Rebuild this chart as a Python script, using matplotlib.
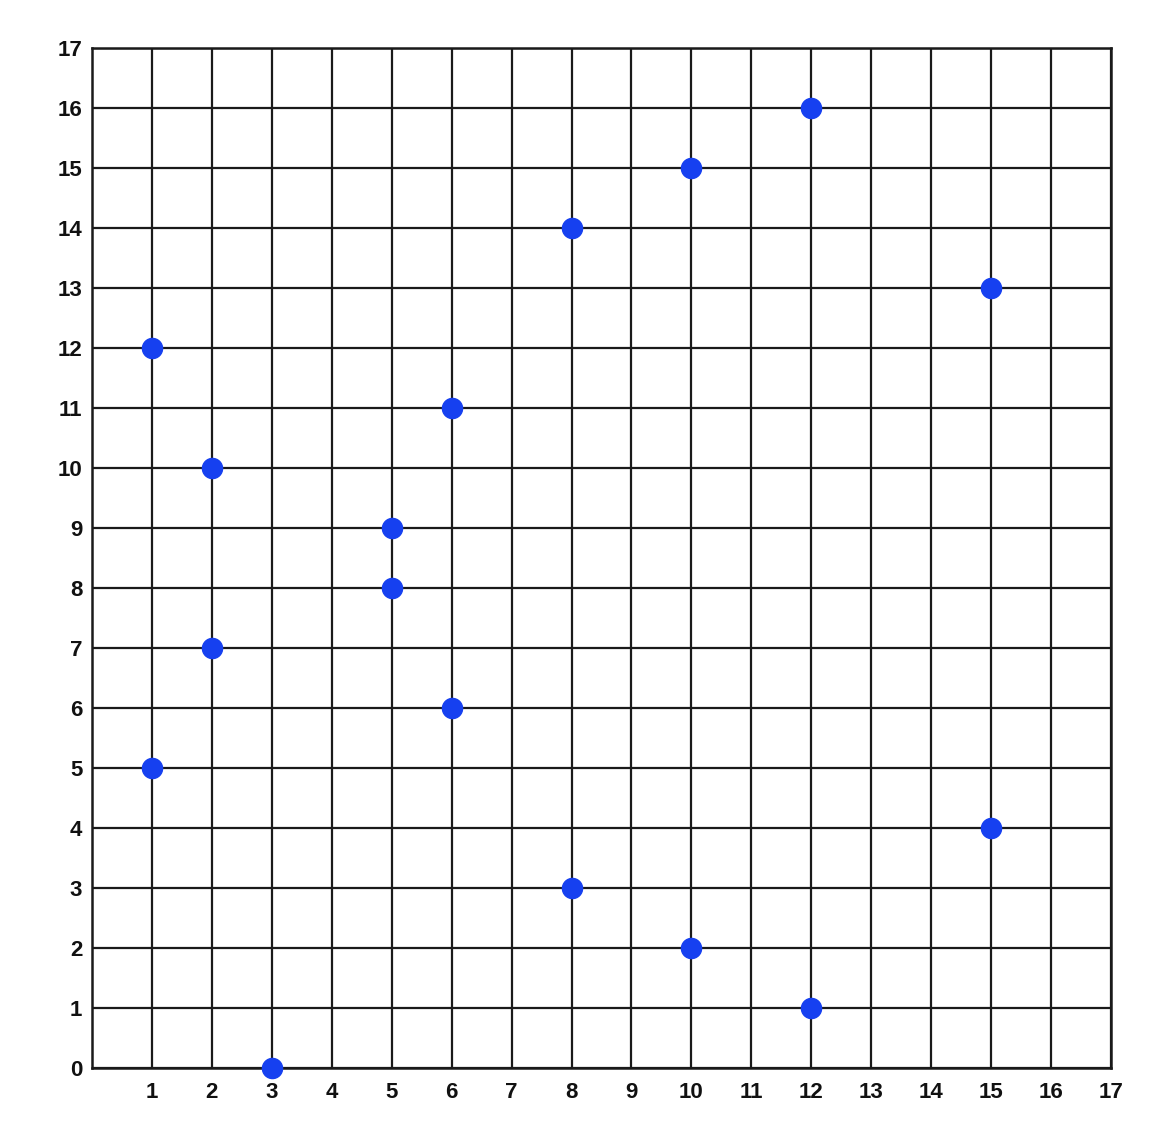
import matplotlib.pyplot as plt

# points
xs = [1, 1, 2, 2, 3, 5, 5, 6, 6, 8, 8, 10, 10, 12, 12, 15, 15]
ys = [12, 5, 10, 7, 0, 9, 8, 11, 6, 14, 3, 15, 2, 16, 1, 13, 4]

x_ticks = list(range(1, 18))
y_ticks = list(range(0, 18))

fig = plt.figure(figsize=(11.66, 11.38), dpi=100)
ax = fig.add_axes([0.0789, 0.0615, 0.8739, 0.8963])

ax.set_xlim(0, 17)
ax.set_ylim(0, 17)
ax.set_xticks(x_ticks)
ax.set_yticks(y_ticks)
ax.set_xticklabels([str(t) for t in x_ticks], fontweight='bold', fontsize=16, family='Liberation Sans')
ax.set_yticklabels([str(t) for t in y_ticks], fontweight='bold', fontsize=16, family='Liberation Sans')
ax.tick_params(axis='x', length=0, pad=10, colors='#111111')
ax.tick_params(axis='y', length=0, pad=7, colors='#111111')
ax.grid(True, color='#1a1a1a', linewidth=1.6)
for s in ax.spines.values():
    s.set_linewidth(1.8)
    s.set_color('#1a1a1a')

ax.scatter(xs, ys, s=210, color='#1640f0', zorder=5, clip_on=False)

fig.savefig('out.png', dpi=100)
